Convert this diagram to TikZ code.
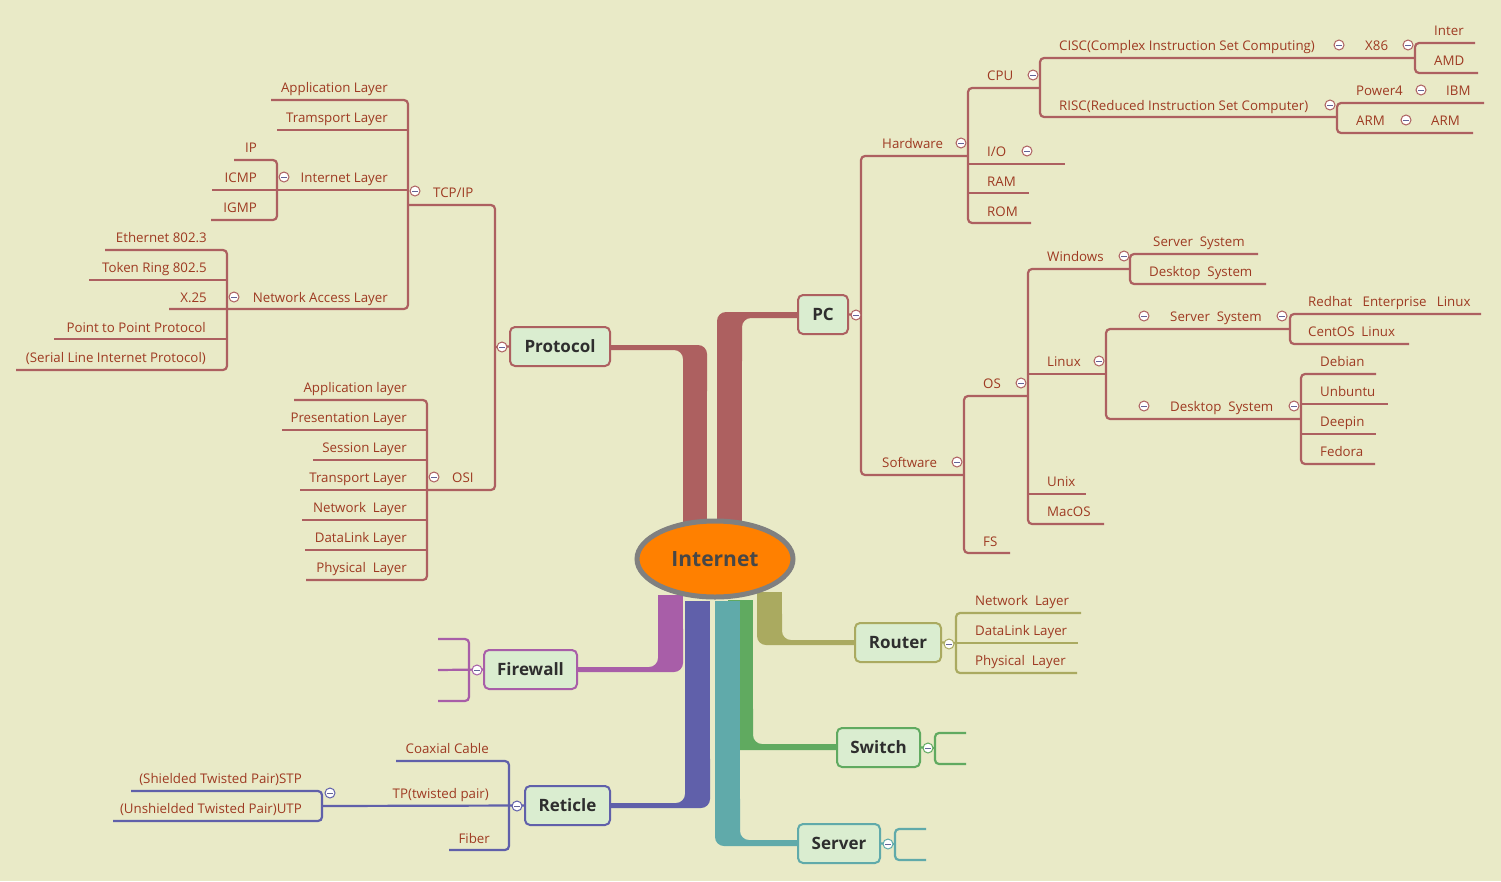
\documentclass[tikz,border=0pt]{standalone}
\usepackage{fontspec}
\setmainfont{Open Sans}
\usetikzlibrary{shapes.geometric}
\definecolor{bg}{RGB}{233,234,199}
\definecolor{brn}{RGB}{173,96,96}
\definecolor{txt}{RGB}{158,58,34}
\definecolor{olv}{RGB}{170,170,96}
\definecolor{grn}{RGB}{96,170,96}
\definecolor{tea}{RGB}{96,170,170}
\definecolor{blu}{RGB}{96,96,170}
\definecolor{pur}{RGB}{168,94,168}
\definecolor{boxfill}{RGB}{218,237,208}
\definecolor{orng}{RGB}{255,128,0}
\definecolor{ringgrey}{RGB}{128,128,128}
\definecolor{minuscol}{RGB}{100,100,150}

\tikzset{
  br/.style={line width=2.2pt, rounded corners=4pt},
  lbl/.style={inner sep=0pt, text=txt, font=\fontsize{13.3}{15}\selectfont},
  le/.style={lbl, anchor=base east},
  lw/.style={lbl, anchor=base west},
  topic/.style={draw, line width=2pt, rounded corners=5pt, fill=boxfill,
    minimum height=39pt, inner sep=0pt, text=black!82,
    font=\bfseries\fontsize{17}{20}\selectfont},
  trunk/.style={rounded corners=9pt},
  fold/.style={circle, draw=#1, line width=1pt, fill=white, minimum size=10pt,
    inner sep=0pt, path picture={\draw[line width=1pt, minuscol]
      ([xshift=-2.6pt]path picture bounding box.center) --
      ([xshift=2.6pt]path picture bounding box.center);}},
}

\begin{document}
\begin{tikzpicture}[x=1pt, y=-1pt]
\useasboundingbox (0,0) rectangle (1501,881);
\fill[bg] (0,0) rectangle (1501,881);

% ---- thick trunks from the centre: straight shaft plus rounded bend ----
\fill[brn] (683,380) rectangle (707,530);
\fill[brn, trunk] (600,345) -- (707,345) -- (707,400) -- (683,400) -- (683,350) -- (600,350) -- cycle;
\fill[brn] (717,350) rectangle (742,530);
\fill[brn, trunk] (810,312) -- (717,312) -- (717,370) -- (742,370) -- (742,318) -- (810,318) -- cycle;
\fill[olv] (757,592) rectangle (782,630);
\fill[olv, trunk] (757,605) -- (757,645) -- (865,645) -- (865,640) -- (782,640) -- (782,605) -- cycle;
\fill[grn] (728,600) rectangle (753,730);
\fill[grn, trunk] (728,700) -- (728,750) -- (845,750) -- (845,744) -- (753,744) -- (753,700) -- cycle;
\fill[tea] (715,601) rectangle (740,820);
\fill[tea, trunk] (715,790) -- (715,846) -- (808,846) -- (808,840) -- (740,840) -- (740,790) -- cycle;
\fill[blu] (685,601) rectangle (710,780);
\fill[blu, trunk] (685,750) -- (685,803) -- (600,803) -- (600,808) -- (710,808) -- (710,750) -- cycle;
\fill[pur] (658,595) rectangle (683,650);
\fill[pur, trunk] (658,620) -- (658,667) -- (570,667) -- (570,672) -- (683,672) -- (683,620) -- cycle;

% ---- centre and main topics ----
\node[ellipse, draw=ringgrey, line width=5pt, fill=orng, minimum width=156pt,
  minimum height=76pt, text=black!72, font=\bfseries\fontsize{21}{24}\selectfont]
  (internet) at (715,559) {Internet};
\node[topic, draw=brn, minimum width=100pt] (protocol) at (560,346.5) {Protocol};
\node[topic, draw=brn, minimum width=50pt] (pc) at (823,314.5) {PC};
\node[topic, draw=olv, minimum width=86pt] (router) at (898,642.5) {Router};
\node[topic, draw=grn, minimum width=83pt] (switch) at (878.5,747.5) {Switch};
\node[topic, draw=tea, minimum width=82pt] (server) at (839,843.5) {Server};
\node[topic, draw=pur, minimum width=93pt] (firewall) at (530.5,669.5) {Firewall};
\node[topic, draw=blu, minimum width=85pt] (reticle) at (567.5,805.5) {Reticle};

% ---- Protocol branch ----
\begin{scope}[brn, br]
\draw (protocol.west) -- (495,347);
\draw (408,205) -- (495,205) -- (495,490) -- (427,490);
\draw (271,100) -- (408,100) -- (408,309) -- (169,309);
\draw (277,130) -- (408,130);
\draw (212,190) -- (408,190);
\draw (234,160) -- (277,160) -- (277,220) -- (211,220);
\draw (105,250) -- (227,250) -- (227,370) -- (16,370);
\draw (89,280) -- (227,280);
\draw (54,339) -- (227,339);
\draw (294,400) -- (427,400) -- (427,580) -- (306,580);
\draw (282,430) -- (427,430);
\draw (313,460) -- (427,460);
\draw (300,490) -- (427,490);
\draw (302,520) -- (427,520);
\draw (305,550) -- (427,550);
\end{scope}

\node[le] (app) at (388,92) {Application Layer};
\node[le] (tra) at (388,122) {Tramsport Layer};
\node[le] (inl) at (388,182) {Internet Layer};
\node[le] (ip) at (257,152) {IP};
\node[le] (icmp) at (257,182) {ICMP};
\node[le] (igmp) at (257,212) {IGMP};
\node[le] (nal) at (388,302) {Network Access Layer};
\node[le] (eth) at (207,242) {Ethernet 802.3};
\node[le] (tok) at (207,272) {Token Ring 802.5};
\node[le] (x25) at (207,302) {X.25};
\node[le] (ppp) at (206,332) {Point to Point Protocol};
\node[le] (slip) at (206,362) {(Serial Line Internet Protocol)};
\node[lw] (tcpip) at (433,197) {TCP/IP};
\node[lw] (osi) at (452,482) {OSI};
\node[le] (oapp) at (407,392) {Application layer};
\node[le] (opre) at (407,422) {Presentation Layer};
\node[le] (oses) at (407,452) {Session Layer};
\node[le] (otra) at (407,482) {Transport Layer};
\node[le] (onet) at (407,512) {Network\ \ Layer};
\node[le] (odl) at (407,542) {DataLink Layer};
\node[le] (ophy) at (407,572) {Physical\ \ Layer};

\node[fold=brn] (f-protocol) at (502,347) {};
\node[fold=brn] (f-tcpip) at (415,191) {};
\node[fold=brn] (f-inl) at (284,177) {};
\node[fold=brn] (f-nal) at (234,297) {};
\node[fold=brn] (f-osi) at (434,477) {};

% ---- PC branch ----
\begin{scope}[brn, br]
\draw (pc.east) -- (861,315);
\draw (968,156) -- (861,156) -- (861,475) -- (964,475);
\draw (1040,88) -- (968,88) -- (968,223) -- (1031,223);
\draw (968,164) -- (1065,164);
\draw (968,193) -- (1029,193);
\draw (1415,58) -- (1040,58) -- (1040,117) -- (1337,117);
\draw (1475,43) -- (1415,43) -- (1415,73) -- (1478,73);
\draw (1484,103) -- (1337,103) -- (1337,133) -- (1473,133);
\draw (1028,396) -- (964,396) -- (964,553) -- (1010,553);
\draw (1130,269) -- (1028,269) -- (1028,524) -- (1104,524);
\draw (1028,374) -- (1106,374);
\draw (1028,494) -- (1086,494);
\draw (1258,254) -- (1130,254) -- (1130,284) -- (1266,284);
\draw (1290,329) -- (1106,329) -- (1106,419) -- (1301,419);
\draw (1481,314) -- (1290,314) -- (1290,344) -- (1409,344);
\draw (1376,374) -- (1301,374) -- (1301,464) -- (1375,464);
\draw (1301,404) -- (1388,404);
\draw (1301,434) -- (1376,434);
\end{scope}

\node[lw] (hw) at (882,148) {Hardware};
\node[lw] (cpu) at (987,80) {CPU};
\node[lw] (cisc) at (1059,50) {CISC(Complex Instruction Set Computing)};
\node[lw] (x86) at (1365,50) {X86};
\node[lw] (inter) at (1434,35) {Inter};
\node[lw] (amd) at (1434,65) {AMD};
\node[lw] (risc) at (1059,110) {RISC(Reduced Instruction Set Computer)};
\node[lw] (power) at (1356,95) {Power4};
\node[lw] (ibm) at (1446,95) {IBM};
\node[lw] (arm1) at (1356,125) {ARM};
\node[lw] (arm2) at (1431,125) {ARM};
\node[lw] (io) at (987,156) {I/O};
\node[lw] (ram) at (987,186) {RAM};
\node[lw] (rom) at (987,216) {ROM};
\node[lw] (sw) at (882,467) {Software};
\node[lw] (os) at (983,388) {OS};
\node[lw] (fs) at (983,546) {FS};
\node[lw] (win) at (1047,261) {Windows};
\node[lw] (wss) at (1153,246) {Server\ \ System};
\node[lw] (wds) at (1149,276) {Desktop\ \ System};
\node[lw] (lin) at (1047,366) {Linux};
\node[lw] (lss) at (1170,321) {Server\ \ System};
\node[lw] (redhat) at (1308,306) {Redhat\ \ \ Enterprise\ \ \ Linux};
\node[lw] (centos) at (1308,336) {CentOS\ \ Linux};
\node[lw] (lds) at (1170,411) {Desktop\ \ System};
\node[lw] (debian) at (1320,366) {Debian};
\node[lw] (ubuntu) at (1320,396) {Unbuntu};
\node[lw] (deepin) at (1320,426) {Deepin};
\node[lw] (fedora) at (1320,456) {Fedora};
\node[lw] (unix) at (1047,486) {Unix};
\node[lw] (macos) at (1047,516) {MacOS};

\node[fold=brn] (f-pc) at (856,315) {};
\node[fold=brn] (f-hw) at (961,143) {};
\node[fold=brn] (f-cpu) at (1033,75) {};
\node[fold=brn] (f-cisc) at (1339,45) {};
\node[fold=brn] (f-x86) at (1408,45) {};
\node[fold=brn] (f-risc) at (1330,105) {};
\node[fold=brn] (f-power) at (1421,90) {};
\node[fold=brn] (f-arm) at (1406,120) {};
\node[fold=brn] (f-io) at (1027,151) {};
\node[fold=brn] (f-sw) at (957,462) {};
\node[fold=brn] (f-os) at (1021,383) {};
\node[fold=brn] (f-win) at (1124,256) {};
\node[fold=brn] (f-lin) at (1099,361) {};
\node[fold=brn] (f-lss1) at (1144,316) {};
\node[fold=brn] (f-lss2) at (1282,316) {};
\node[fold=brn] (f-lds1) at (1144,406) {};
\node[fold=brn] (f-lds2) at (1294,406) {};

% ---- Router ----
\begin{scope}[olv, br]
\draw (router.east) -- (956,643);
\draw (1081,613) -- (956,613) -- (956,673) -- (1077,673);
\draw (956,643) -- (1078,643);
\end{scope}
\node[lw] (rnet) at (975,605) {Network\ \ Layer};
\node[lw] (rdl) at (975,635) {DataLink Layer};
\node[lw] (rphy) at (975,665) {Physical\ \ Layer};
\node[fold=olv] (f-router) at (949,644) {};

% ---- Switch ----
\begin{scope}[grn, br]
\draw (switch.east) -- (935,748);
\draw (966,733) -- (935,733) -- (935,764) -- (966,764);
\end{scope}
\node[fold=grn] (f-switch) at (928,748) {};

% ---- Server ----
\begin{scope}[tea, br]
\draw (server.east) -- (895,844);
\draw (926,829) -- (895,829) -- (895,860) -- (926,860);
\end{scope}
\node[fold=tea] (f-server) at (888,844) {};

% ---- Firewall ----
\begin{scope}[pur, br]
\draw (firewall.west) -- (438,670);
\draw (438,639) -- (469,639) -- (469,701) -- (438,701);
\end{scope}
\node[fold=pur] (f-firewall) at (477,670) {};

% ---- Reticle ----
\begin{scope}[blu, br]
\draw (reticle.west) -- (322,806);
\draw (396,761) -- (509,761) -- (509,850) -- (449,850);
\draw (131,791) -- (322,791) -- (322,821) -- (113,821);
\end{scope}
\node[le] (coax) at (489,753) {Coaxial Cable};
\node[le] (tp) at (489,798) {TP(twisted pair)};
\node[le] (fiber) at (490,843) {Fiber};
\node[le] (stp) at (302,783) {(Shielded Twisted Pair)STP};
\node[le] (utp) at (302,813) {(Unshielded Twisted Pair)UTP};
\node[fold=blu] (f-reticle) at (517,806) {};
\node[fold=blu] (f-tp) at (330,793) {};

\end{tikzpicture}
\end{document}
